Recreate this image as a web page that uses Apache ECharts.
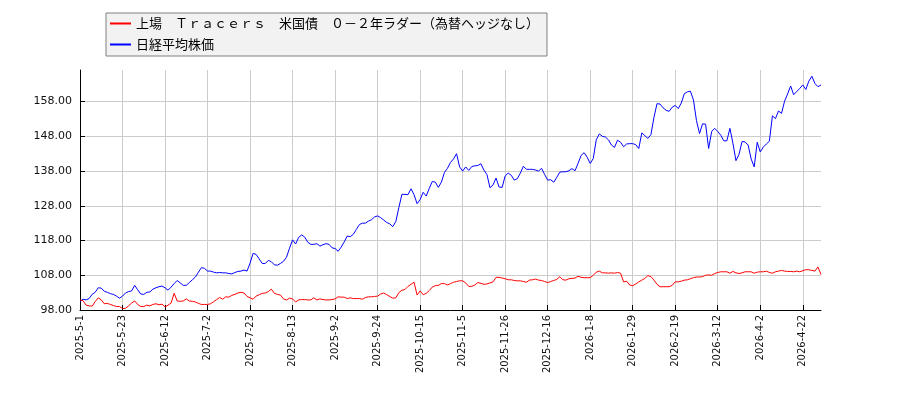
<!DOCTYPE html>
<html>
<head>
<meta charset="utf-8">
<script src="https://cdn.jsdelivr.net/npm/echarts@6/dist/echarts.min.js"></script>
<style>
    html, body { margin: 0; padding: 0; background: #fff; }
    #chart-main { width: 900px; height: 400px; }
</style>
</head>
<body>
<div id="chart-main"></div>
<script>
// 取引日（月ごと）
var tradeMonths = ['2025-5', '2025-6', '2025-7', '2025-8', '2025-9', '2025-10', '2025-11', '2025-12',
    '2026-1', '2026-2', '2026-3', '2026-4', '2026-5'];
var tradeDays = [
    [1,2,7,8,9,12,13,14,15,16,19,20,21,22,23,26,27,28,29,30],
    [2,3,4,5,6,9,10,11,12,13,16,17,18,19,20,23,24,25,26,27,30],
    [1,2,3,4,7,8,9,10,11,14,15,16,17,18,22,23,24,25,28,29,30,31],
    [1,4,5,6,7,8,12,13,14,15,18,19,20,21,22,25,26,27,28,29],
    [1,2,3,4,5,8,9,10,11,12,16,17,18,19,22,24,25,26,29,30],
    [1,2,3,6,7,8,9,10,14,15,16,17,20,21,22,23,24,27,28,29,30,31],
    [4,5,6,7,10,11,12,13,14,17,18,19,20,21,25,26,27,28],
    [1,2,3,4,5,8,9,10,11,12,15,16,17,18,19,22,23,24,25,26,29,30],
    [5,6,7,8,9,13,14,15,16,19,20,21,22,23,26,27,28,29,30],
    [2,3,4,5,6,9,10,12,13,16,17,18,19,20,24,25,26,27],
    [2,3,4,5,6,9,10,11,12,13,16,17,18,19,23,24,25,26,27,30,31],
    [1,2,3,6,7,8,9,10,13,14,15,16,17,20,21,22,23,24,27,28,30],
    [1]
];

// 上場 Ｔｒａｃｅｒｓ 米国債 ０－２年ラダー（為替ヘッジなし）
var etfValues = [
    100.9,100.7,99.4,99.2,99.1,100.4,101.5,100.9,99.8,99.9,
    99.6,99.3,99.0,99.0,98.4,98.5,99.2,100.0,100.6,99.6,
    99.0,99.0,99.4,99.2,99.6,99.8,99.5,99.7,98.9,99.4,
    100.0,102.8,100.6,100.5,100.6,101.2,100.6,100.5,100.3,99.9,
    99.6,99.6,99.6,99.8,100.4,101.0,101.6,101.1,101.8,101.7,
    102.2,102.5,102.9,103.1,102.9,101.9,101.5,101.1,102.0,102.4,
    102.8,102.9,103.3,104.0,102.8,102.5,102.3,101.2,100.9,101.4,
    101.2,100.3,100.9,101.0,101.0,100.9,100.9,101.5,100.9,101.2,
    101.0,100.9,100.9,101.0,101.2,101.8,101.7,101.7,101.3,101.5,
    101.3,101.3,101.3,101.1,101.6,101.8,101.8,101.9,102.0,102.6,
    102.9,102.4,101.9,101.4,101.5,103.0,103.7,103.9,104.8,105.4,
    106.0,102.3,103.5,102.4,102.8,103.6,104.6,105.0,105.1,105.6,
    105.6,105.2,105.6,106.0,106.2,106.4,106.4,105.8,104.8,104.8,
    105.2,105.9,105.7,105.4,105.5,105.8,106.1,107.4,107.4,107.2,
    107.0,106.7,106.7,106.5,106.4,106.4,106.2,106.0,106.6,106.7,
    106.9,106.6,106.5,106.2,105.9,106.2,106.5,106.8,107.6,106.7,
    106.6,107.0,107.1,107.2,107.7,107.4,107.3,107.3,107.3,108.0,
    108.9,109.2,108.7,108.7,108.6,108.7,108.6,108.8,108.6,106.1,
    106.3,105.2,105.0,105.5,106.1,106.6,107.1,107.9,107.6,106.6,
    105.4,104.7,104.7,104.7,104.7,105.1,106.1,106.1,106.3,106.6,
    106.7,107.0,107.3,107.5,107.5,107.6,108.0,108.1,108.0,108.5,
    108.8,109.0,109.0,109.0,108.6,109.1,108.7,108.5,108.7,109.0,
    109.0,109.0,108.6,108.9,109.0,109.0,109.2,108.8,108.6,109.0,
    109.2,109.4,109.2,109.1,109.1,109.0,109.2,109.0,109.3,109.6,
    109.6,109.4,109.2,110.4,108.2
];

// 日経平均株価
var nikkeiValues = [
    100.4,101.1,100.9,101.3,102.5,103.1,104.4,104.3,103.4,103.1,
    102.7,102.5,102.0,101.4,102.0,102.9,103.3,103.5,105.1,103.8,
    102.6,102.5,103.1,103.2,104.0,104.4,104.7,104.9,104.4,103.7,
    104.6,105.6,106.5,105.8,105.1,105.1,105.9,106.7,107.5,108.9,
    110.2,110.0,109.2,109.2,108.9,108.7,108.8,108.7,108.7,108.5,
    108.4,108.8,109.1,109.2,109.5,109.2,111.5,114.3,114.0,112.7,
    111.4,111.4,112.3,111.9,111.0,110.9,111.4,112.0,113.2,115.8,
    118.2,117.0,118.9,119.6,119.0,117.5,116.9,116.9,117.1,116.4,
    116.8,117.1,116.9,115.9,115.7,114.9,116.1,117.6,119.3,119.1,
    119.8,121.2,122.6,123.0,123.0,123.6,124.0,124.8,125.1,124.6,
    123.9,123.2,122.8,122.0,123.5,127.5,131.3,131.3,131.2,132.9,
    131.2,128.6,129.8,131.9,130.8,133.0,135.0,134.8,133.3,134.8,
    137.6,138.8,140.5,141.5,143.0,139.2,138.0,139.2,138.2,139.3,
    139.5,139.6,140.1,138.3,137.0,133.2,134.0,136.0,133.4,133.3,
    136.6,137.4,136.8,135.4,135.8,137.4,139.4,138.5,138.5,138.5,
    138.3,138.0,138.8,137.0,135.4,135.5,134.8,136.2,137.7,137.8,
    137.8,138.1,138.7,138.1,140.2,142.5,143.3,142.0,140.2,141.6,
    147.0,148.7,148.0,147.8,147.0,145.5,144.8,146.9,146.3,145.0,
    145.8,145.9,145.9,145.6,144.5,149.0,148.2,147.4,148.5,153.5,
    157.4,157.3,156.2,155.5,155.2,156.4,156.9,156.0,157.6,160.3,
    160.8,161.0,158.5,152.5,148.8,151.6,151.5,144.5,149.4,150.3,
    149.4,148.3,146.7,146.7,150.3,146.0,141.0,142.8,146.5,146.4,
    145.5,141.5,139.2,146.3,143.5,144.9,145.8,146.6,153.9,153.1,
    155.3,154.6,158.1,160.2,162.5,160.0,160.9,161.8,162.8,161.5,
    163.9,165.3,163.2,162.3,162.8
];

var yTicks = [98, 108, 118, 128, 138, 148, 158];

var categories = [];
tradeMonths.forEach(function (m, i) {
    tradeDays[i].forEach(function (d) {
        categories.push(m + '-' + d);
    });
});

var myChart = echarts.init(document.getElementById('chart-main'));
var option = {
    animation: false,
    legend: {
        orient: 'vertical',
        left: 106,
        top: 13,
        padding: [4, 8, 5, 4],
        itemGap: 8,
        itemWidth: 21,
        itemHeight: 2,
        icon: 'rect',
        backgroundColor: '#f2f2f2',
        borderColor: '#808080',
        borderWidth: 1,
        borderRadius: 0,
        textStyle: {
            color: '#000',
            fontSize: 13,
            fontFamily: 'Noto Sans CJK JP'
        },
        data: ['上場　Ｔｒａｃｅｒｓ　米国債　０－２年ラダー（為替ヘッジなし）', '日経平均株価']
    },
    grid: {
        left: 80,
        right: 79,
        top: 70,
        bottom: 90
    },
    xAxis: {
        type: 'category',
        data: categories,
        boundaryGap: false,
        axisLine: {
            lineStyle: { color: '#000', width: 1 }
        },
        axisTick: {
            inside: true,
            length: 5,
            interval: 13,
            lineStyle: { color: '#000' }
        },
        axisLabel: {
            interval: 13,
            rotate: 90,
            margin: 5,
            color: '#111',
            fontSize: 10,
            fontFamily: 'DejaVu Sans'
        },
        splitLine: {
            show: true,
            interval: 13,
            lineStyle: { color: '#cccccc', width: 1 }
        }
    },
    yAxis: {
        type: 'value',
        min: 98,
        max: 167.1,
        axisLine: {
            show: true,
            lineStyle: { color: '#000', width: 1 }
        },
        axisTick: {
            show: true,
            inside: true,
            length: 5,
            customValues: yTicks,
            lineStyle: { color: '#000' }
        },
        axisLabel: {
            customValues: yTicks,
            margin: 8,
            color: '#111',
            fontSize: 11,
            fontFamily: 'DejaVu Sans',
            formatter: function (v) {
                return v.toFixed(2);
            }
        },
        splitLine: {
            show: true,
            lineStyle: { color: '#cccccc', width: 1 }
        }
    },
    series: [{
        name: '上場　Ｔｒａｃｅｒｓ　米国債　０－２年ラダー（為替ヘッジなし）',
        type: 'line',
        data: etfValues,
        showSymbol: false,
        symbol: 'none',
        itemStyle: { color: '#ff0000' },
        lineStyle: { color: '#ff0000', width: 1 },
        z: 3
    }, {
        name: '日経平均株価',
        type: 'line',
        data: nikkeiValues,
        showSymbol: false,
        symbol: 'none',
        itemStyle: { color: '#0000ff' },
        lineStyle: { color: '#0000ff', width: 1 },
        z: 2
    }]
};
myChart.setOption(option);
</script>
</body>
</html>
